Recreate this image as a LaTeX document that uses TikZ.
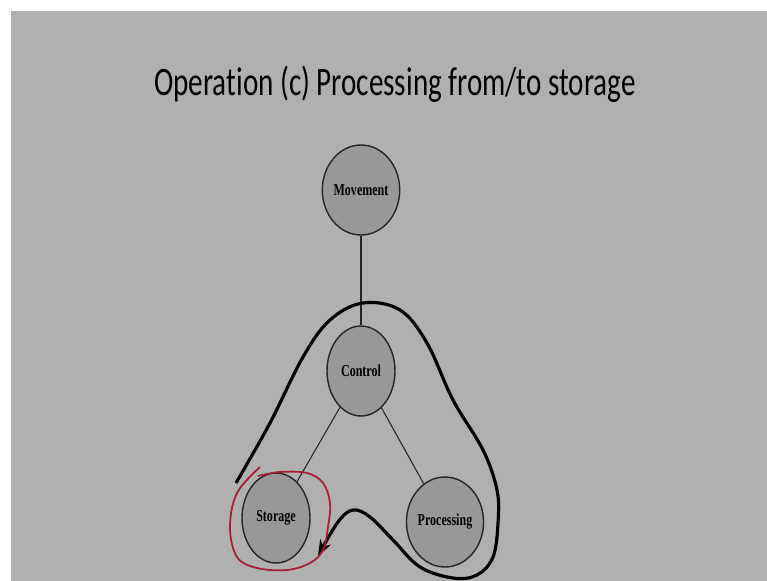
\documentclass[tikz,border=0pt]{standalone}
\usepackage{fontspec}
\setmainfont{Liberation Serif}
\newfontfamily\titlefont[Ligatures=NoCommon]{Carlito}
\usetikzlibrary{shapes.geometric,arrows.meta}
\definecolor{slidegray}{RGB}{176,176,176}
\definecolor{nodegray}{RGB}{152,152,152}
\definecolor{penred}{RGB}{168,28,52}

\begin{document}
\begin{tikzpicture}[x=0.02cm,y=-0.02cm]
  \tikzstyle{opnode}=[ellipse,draw=black!85,fill=nodegray,line width=0.8pt,inner sep=0pt,
    minimum width=1.36cm,minimum height=1.8cm,font=\bfseries\fontsize{9.5}{11}\selectfont]
  \tikzstyle{link}=[draw=black!85,line width=0.6pt]
  \newcommand{\squeeze}[1]{\scalebox{0.72}[1]{#1}}

  % slide
  \fill[white] (0,0) rectangle (767,581);
  \fill[slidegray] (11,11) rectangle (767,581);
  \useasboundingbox (0,0) rectangle (767,581);

  \node[anchor=base] (title) at (395,95)
    {\squeeze{\titlefont\fontsize{23}{27}\selectfont Operation (c) Processing from/to storage}};

  % nodes
  \node[opnode] (mov) at (361,190) {\squeeze{Movement}};
  \node[opnode] (ctl) at (361,371) {\squeeze{Control}};
  \node[opnode] (sto) at (276,518) {\squeeze{Storage}};
  \node[opnode] (pro) at (445,522) {\squeeze{Processing}};

  % edges
  \draw[link] (mov) -- (ctl);
  \draw[link] (ctl) -- (sto);
  \draw[link] (ctl) -- (pro);

  % data path
  \coordinate (tourstart) at (236,483);
  \coordinate (tourend) at (318,556);
  \draw[line width=1.8pt,-{Stealth[length=0.32cm,width=0.24cm]}]
    plot[smooth,tension=0.6] coordinates {(tourstart) (270,423) (303,357) (330,320)
      (363,303) (400,310) (427,343) (453,400) (483,450) (497,490) (498,523) (493,557)
      (477,575) (453,578) (420,567) (393,540) (370,517) (353,510) (338,522) (tourend)};

  % pen mark
  \draw[penred,line width=1pt] plot[smooth,tension=0.6] coordinates {(260,467) (237,493)
    (230,527) (237,557) (257,568) (287,570) (310,563) (323,550) (328,527) (330,503)
    (323,483) (307,473) (280,472) (258,476)};
\end{tikzpicture}
\end{document}
